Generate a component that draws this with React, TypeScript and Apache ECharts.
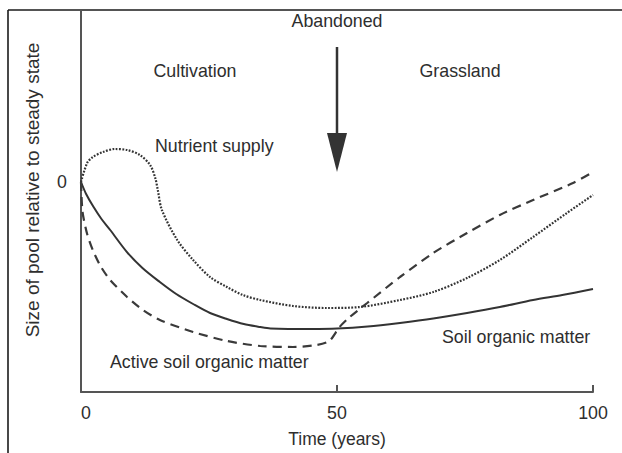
import React, { useEffect, useRef } from "react";
import * as echarts from "echarts";

// Time (years) vs size of pool relative to steady state (0 = steady state)
const soilOrganicMatter: number[][] = [
  [0, 0], [1, -6], [2.4, -12.3], [4, -18.5], [5.7, -24], [8.9, -34.8], [12, -43],
  [15.4, -50], [18.6, -56], [21.9, -61], [25.2, -65.5], [28.5, -68.5], [31.8, -71],
  [35, -72.5], [37, -73.2], [45, -73.5], [50, -73.3], [56, -72.3], [62.3, -70.5],
  [68.8, -68.3], [75.4, -65.5], [81.8, -62.5], [88.3, -59], [94, -56.5], [100, -53.5],
];

const activeSoilOrganicMatter: number[][] = [
  [0, 0], [0.3, -15], [1.2, -26], [2.3, -34], [3.8, -42], [5.7, -49], [9, -57.5],
  [12.1, -64], [15.4, -69], [21.9, -75], [28.5, -79.5], [35, -82], [41.4, -82.5],
  [46, -81.5], [48.5, -79.5], [50.5, -72.5], [52.5, -67.5], [55.9, -60.5],
  [62.3, -47.5], [68.8, -35.5], [75.4, -25.5], [81.8, -16.5], [88.3, -9],
  [96.1, -0.5], [100, 5],
];

const nutrientSupply: number[][] = [
  [0, 0], [1.2, 9.5], [2.3, 12.5], [4.3, 15], [6.6, 16.5], [9, 16], [11.5, 13.5],
  [13.5, 8.5], [14.5, 2], [15, -4], [15.8, -14], [18.8, -29], [21.9, -39],
  [25.2, -47.5], [28.5, -52.5], [31.6, -56.5], [35, -59], [41.4, -62], [48, -63],
  [54.5, -62.5], [62.3, -59], [68.8, -55], [75.4, -48], [81.8, -39], [88.3, -27.5],
  [94.9, -15.5], [100, -6.5],
];

const xTickValues = [50, 100];
const xLabelValues = [0, 50, 100];
const yLabelValues = [0];
const abandonYear = 50;

const FONT = "'Liberation Sans', Arial, Helvetica, sans-serif";
const INK = "#2e2e2e";
const FS = 17.8;

export default function App() {
  const ref = useRef<HTMLDivElement>(null);

  useEffect(() => {
    const chart = echarts.init(ref.current!, null, { renderer: "svg" });
    chart.setOption({
      animation: false,
      backgroundColor: "#ffffff",
      textStyle: { fontFamily: FONT },
      grid: { left: 81, right: 29, top: 10, bottom: 61, containLabel: false },
      xAxis: {
        type: "value",
        min: 0,
        max: 100,
        interval: 50,
        name: "Time (years)",
        nameLocation: "middle",
        nameGap: 38,
        nameTextStyle: { fontSize: 17.5, color: INK, fontFamily: FONT },
        axisLine: { show: true, onZero: false, lineStyle: { color: "#555", width: 2 } },
        axisTick: {
          show: true,
          inside: true,
          length: 7,
          customValues: xTickValues,
          lineStyle: { color: "#555", width: 2 },
        },
        axisLabel: {
          customValues: xLabelValues,
          margin: 12,
          fontSize: FS,
          color: INK,
          fontFamily: FONT,
          alignMinLabel: "left",
        },
        splitLine: { show: false },
      },
      yAxis: {
        type: "value",
        min: -105,
        max: 86,
        name: "Size of pool relative to steady state",
        nameLocation: "middle",
        nameRotate: 90,
        nameGap: 39,
        nameTextStyle: { fontSize: 19, color: INK, fontFamily: FONT, padding: [0, 0, 0, 22] },
        axisLine: { show: true, onZero: false, lineStyle: { color: "#555", width: 2 } },
        axisTick: { show: false },
        axisLabel: {
          customValues: yLabelValues,
          margin: 14,
          fontSize: FS,
          color: INK,
          fontFamily: FONT,
        },
        splitLine: { show: false },
      },
      series: [
        {
          name: "Soil organic matter",
          type: "line",
          data: soilOrganicMatter,
          showSymbol: false,
          smooth: 0.3,
          lineStyle: { color: "#333", width: 2, type: "solid" },
        },
        {
          name: "Active soil organic matter",
          type: "line",
          data: activeSoilOrganicMatter,
          showSymbol: false,
          smooth: 0.25,
          lineStyle: { color: "#3a3a3a", width: 2.2, type: [9, 6] },
        },
        {
          name: "Nutrient supply",
          type: "line",
          data: nutrientSupply,
          showSymbol: false,
          smooth: 0.3,
          lineStyle: { color: "#333", width: 2.2, type: [1.8, 1.5] },
        },
      ],
    });

    const [xa] = chart.convertToPixel({ gridIndex: 0 }, [abandonYear, 0]) as number[];
    const txt = (text: string, x: number, y: number, align: string = "center") => ({
      type: "text",
      x,
      y,
      style: {
        text,
        fill: INK,
        font: `${FS}px ${FONT}`,
        align,
        verticalAlign: "middle",
      },
    });

    chart.setOption({
      graphic: [
        { type: "line", shape: { x1: 8, y1: 10, x2: 622, y2: 10 }, style: { stroke: "#1a1a1a", lineWidth: 1.6 } },
        { type: "line", shape: { x1: 8, y1: 10, x2: 8, y2: 453 }, style: { stroke: "#1a1a1a", lineWidth: 1.6 } },
        { type: "line", shape: { x1: xa, y1: 47, x2: xa, y2: 136 }, style: { stroke: "#333", lineWidth: 2.5 } },
        {
          type: "polygon",
          shape: { points: [[xa - 10, 133], [xa + 10, 133], [xa, 172]] },
          style: { fill: "#333" },
        },
        txt("Abandoned", xa, 21),
        txt("Cultivation", 195, 71),
        txt("Grassland", 460, 71),
        txt("Nutrient supply", 155, 146, "left"),
        txt("Soil organic matter", 442, 337, "left"),
        txt("Active soil organic matter", 110, 362, "left"),
      ],
    });

    return () => chart.dispose();
  }, []);

  return (
    <div
      ref={ref}
      style={{ position: "absolute", left: 0, top: 0, width: 622, height: 453 }}
    />
  );
}
